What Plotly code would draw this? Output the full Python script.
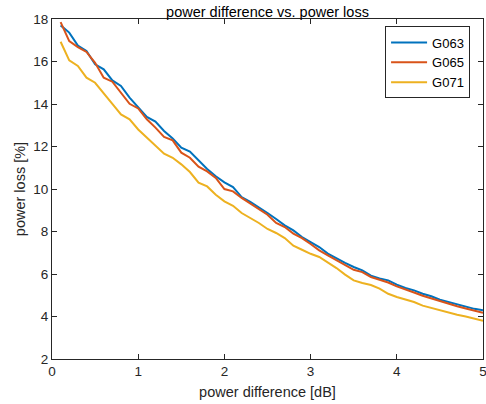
import plotly.graph_objects as go

x_db = [round(0.1 * i, 1) for i in range(1, 51)]

g063 = [17.70, 17.36, 16.75, 16.50, 15.87, 15.63, 15.11, 14.85, 14.30, 13.86,
        13.39, 13.17, 12.73, 12.38, 11.94, 11.76, 11.35, 10.94, 10.60, 10.31,
        10.09, 9.62, 9.39, 9.15, 8.87, 8.59, 8.29, 8.05, 7.74, 7.50,
        7.27, 6.96, 6.72, 6.52, 6.33, 6.17, 5.92, 5.79, 5.70, 5.50,
        5.34, 5.23, 5.07, 4.95, 4.79, 4.68, 4.56, 4.45, 4.36, 4.29]

g065 = [17.85, 16.96, 16.68, 16.45, 15.94, 15.24, 15.05, 14.53, 14.01, 13.79,
        13.28, 12.89, 12.45, 12.29, 11.71, 11.47, 11.05, 10.83, 10.52, 10.00,
        9.89, 9.58, 9.31, 9.06, 8.79, 8.40, 8.21, 7.90, 7.69, 7.41,
        7.11, 6.88, 6.64, 6.40, 6.20, 6.09, 5.86, 5.73, 5.60, 5.42,
        5.26, 5.13, 4.98, 4.85, 4.71, 4.59, 4.48, 4.38, 4.26, 4.17]

g071 = [16.93, 16.05, 15.79, 15.24, 15.00, 14.53, 14.01, 13.51, 13.28, 12.80,
        12.41, 12.02, 11.66, 11.47, 11.16, 10.80, 10.30, 10.12, 9.73, 9.42,
        9.21, 8.87, 8.64, 8.40, 8.12, 7.93, 7.69, 7.33, 7.14, 6.95,
        6.80, 6.55, 6.28, 5.97, 5.70, 5.58, 5.48, 5.31, 5.07, 4.92,
        4.79, 4.68, 4.51, 4.40, 4.27, 4.19, 4.08, 4.00, 3.90, 3.80]

series_names = ["G063", "G065", "G071"]
series_values = [g063, g065, g071]
colors = ["#0072BD", "#D95319", "#EDB120"]

x_ticks = [0, 1, 2, 3, 4, 5]
y_ticks = [2, 4, 6, 8, 10, 12, 14, 16, 18]

fig = go.Figure()
for name, vals, c in zip(series_names, series_values, colors):
    fig.add_trace(go.Scatter(x=x_db, y=vals, mode="lines", name=name,
                             line=dict(color=c, width=2)))

axis_common = dict(showgrid=False, zeroline=False, showline=True, mirror="allticks",
                   linecolor="#262626", linewidth=1, ticks="inside", ticklen=5,
                   tickcolor="#262626", tickfont=dict(size=13.5, color="#262626"),
                   automargin=False, ticklabeloverflow="allow")

fig.update_layout(
    width=486, height=404,
    margin=dict(l=52, r=3, t=19, b=45, autoexpand=False),
    paper_bgcolor="white", plot_bgcolor="white",
    font=dict(family="Liberation Sans, Arial, sans-serif", color="#262626"),
    title=dict(text="power difference vs. power loss", x=0.5, xref="paper",
               xanchor="center", yref="container", y=1 - 11.5 / 404, yanchor="middle",
               font=dict(size=14.5, color="#000000")),
    xaxis=dict(range=[0, 5], tickvals=x_ticks,
               title=dict(text="power difference [dB]", font=dict(size=14.5), standoff=8),
               **axis_common),
    yaxis=dict(range=[2, 18], tickvals=y_ticks,
               title=dict(text="power loss [%]", font=dict(size=14.5), standoff=4),
               **axis_common),
    legend=dict(x=0.97, y=0.978, xanchor="right", yanchor="top",
                bgcolor="white", bordercolor="#262626", borderwidth=1,
                font=dict(size=13, color="#000000"), itemwidth=36,
                tracegroupgap=0),
    showlegend=True,
)

fig.write_html("out.html", config={"displayModeBar": False},
               post_script="document.body.style.margin='0';document.body.style.padding='0';"
                           "document.body.style.overflow='hidden';")
